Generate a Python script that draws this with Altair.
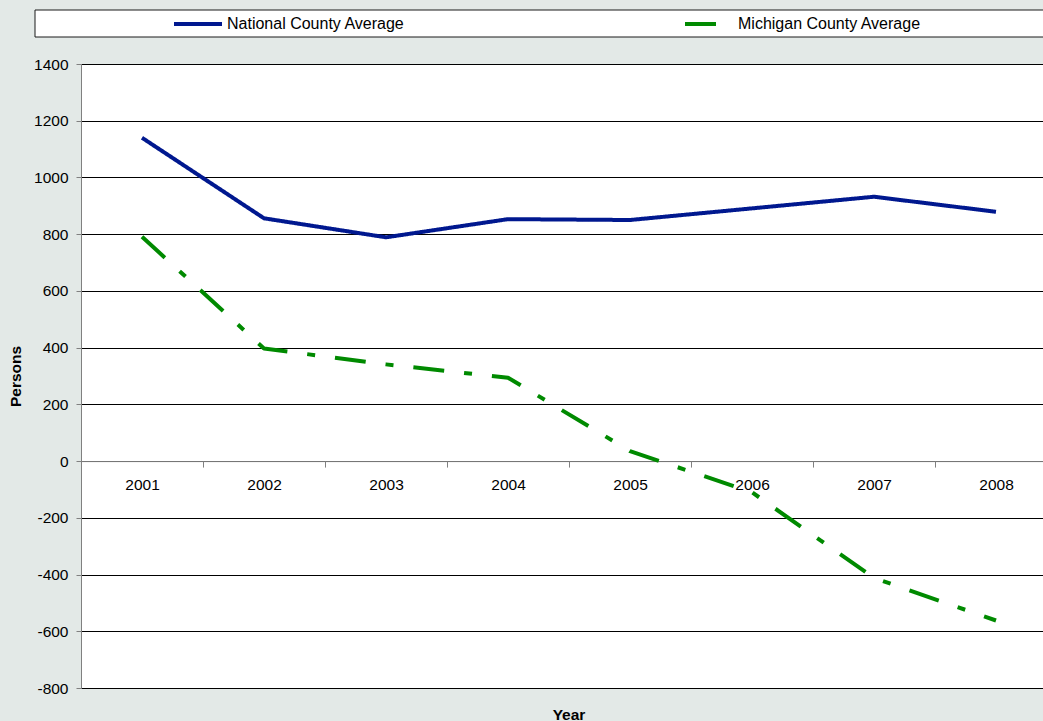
import altair as alt
import pandas as pd

# ---- data ----
years = ["2001", "2002", "2003", "2004", "2005", "2006", "2007", "2008"]
national = [1140, 856, 789, 853, 850, 891, 932, 879]
michigan = [791, 397, 341, 294, 35, -110, -412, -562]
series_names = ["National County Average", "Michigan County Average"]
y_ticks = [-800, -600, -400, -200, 0, 200, 400, 600, 800, 1000, 1200, 1400]

rows = []
for yr, v in zip(years, national):
    rows.append({"Year": yr, "Series": series_names[0], "Persons": v})
for yr, v in zip(years, michigan):
    rows.append({"Year": yr, "Series": series_names[1], "Persons": v})
df = pd.DataFrame(rows)

# ---- styling ----
FONT = "Liberation Sans"
BG = "#E3E9E7"
BLUE = "#00188F"
GREEN = "#008A00"
W = 962          # visible plot width (window is cut at the right)
W_FULL = 976     # full category band range
H = 624
YMIN, YMAX = -800, 1400
zero_offset = -H * (0 - YMIN) / (YMAX - YMIN)

x_enc = alt.X(
    "Year:O",
    sort=years,
    scale=alt.Scale(type="band", range=[0, W_FULL], paddingInner=0, paddingOuter=0),
    axis=alt.Axis(
        title=None, orient="bottom", offset=zero_offset, tickBand="extent",
        labelAngle=0, labelFont=FONT, labelFontSize=15.5, labelColor="black",
        labelPadding=10, tickSize=6, tickColor="#808080", domainColor="#808080",
        grid=False,
    ),
)

y_enc = alt.Y(
    "Persons:Q",
    scale=alt.Scale(domain=[YMIN, YMAX], nice=False, zero=False),
    axis=alt.Axis(
        values=y_ticks, labelExpr="'' + datum.value",
        title="Persons", titleFont=FONT, titleFontSize=15.5,
        titleFontWeight="bold", titleColor="black", titlePadding=10,
        labelFont=FONT, labelFontSize=15.5, labelColor="black", labelPadding=8,
        tickSize=5, tickColor="#808080", domainColor="#808080",
        grid=True, gridColor="#000000", gridWidth=1,
    ),
)

legend = alt.Legend(
    orient="none", legendX=91, legendY=-66, direction="horizontal", title=None,
    symbolType="stroke", symbolSize=2304, symbolStrokeWidth=4,
    labelFont=FONT, labelFontSize=16, labelColor="black", labelOffset=3,
    labelLimit=400, columnPadding=272, padding=0,
)

lines = alt.Chart(df).mark_line(strokeWidth=4, strokeCap="butt", strokeJoin="round").encode(
    x=x_enc,
    y=y_enc,
    color=alt.Color("Series:N", scale=alt.Scale(domain=series_names, range=[BLUE, GREEN]), legend=legend),
    strokeDash=alt.StrokeDash(
        "Series:N",
        scale=alt.Scale(domain=series_names, range=[[1, 0], [31, 20, 8, 20]]),
        legend=legend,
    ),
)

# white frame behind the legend
frame = alt.Chart(pd.DataFrame({"k": [0]})).mark_rect(
    fill="white", stroke="#1a1a1a", strokeWidth=1
).encode(x=alt.value(-46), x2=alt.value(1100), y=alt.value(-54), y2=alt.value(-27))

chart = alt.layer(frame, lines).properties(
    width=W,
    height=H,
    autosize=alt.AutoSizeParams(type="none"),
    padding={"left": 81, "top": 64, "right": 0, "bottom": 33},
    title=alt.TitleParams(
        "Year", orient="bottom", anchor="middle", frame="group", dx=7, offset=11,
        font=FONT, fontSize=15.5, fontWeight="bold", color="black",
    ),
).configure(background=BG).configure_view(fill="white", strokeWidth=0)

chart.save("out.html", embed_options={"renderer": "svg", "actions": False})
